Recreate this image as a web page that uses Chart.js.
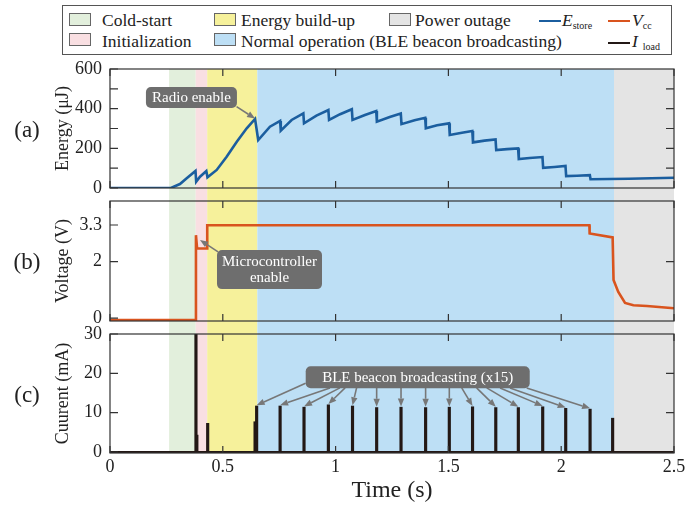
<!DOCTYPE html>
<html>
<head>
<meta charset="utf-8">
<title>Stored energy, supply voltage and load current</title>
<script src="https://cdn.jsdelivr.net/npm/chart.js@4.4.1/dist/chart.umd.min.js"></script>
<style>
  html, body { margin: 0; padding: 0; background: #fff; }
  body { width: 697px; height: 506px; position: relative; overflow: hidden;
         font-family: "Liberation Serif", "Times New Roman", serif; color: #222; }
  #chart { position: absolute; left: 0; top: 0; }
  #legend-box { position: absolute; left: 62px; top: 5px; width: 610px; height: 50px;
                border: 1px solid #555; box-sizing: border-box; }
  .lg { position: absolute; font-size: 17.5px; line-height: 20px; white-space: nowrap; }
  .sw { position: absolute; width: 22px; height: 13px; border: 1px solid #666; box-sizing: border-box; }
  .ln { position: absolute; width: 22px; height: 2.5px; }
  .lg i { font-style: italic; }
  .lg small { font-size: 10px; position: relative; top: 3px; }
</style>
</head>
<body>
<div id="legend-box"></div>
<div id="legend"></div>
<canvas id="chart" width="697" height="506"></canvas>

<script>
const FONT = '"Liberation Serif", "Times New Roman", serif';

// time axis (s)
const xTicks = [0, 0.5, 1, 1.5, 2, 2.5];

// operating phases, shaded behind all three panels
const phaseNames  = ["Cold-start", "Initialization", "Energy build-up",
                     "Normal operation (BLE beacon broadcasting)", "Power outage"];
const phaseStart  = [0.262, 0.380, 0.431, 0.653, 2.234];
const phaseEnd    = [0.380, 0.431, 0.653, 2.234, 2.5];
const phaseColors = ["#e2efdc", "#f9dfe2", "#f6f19b", "#bddff5", "#e4e4e4"];

// (a) stored energy (uJ)
const eTime  = [0, 0.27, 0.31, 0.34, 0.379, 0.382, 0.399, 0.427, 0.432, 0.473,
                0.517, 0.562, 0.606, 0.643, 0.657, 0.709, 0.754, 0.757, 0.805, 0.857,
                0.860, 0.915, 0.968, 0.971, 1.02, 1.072, 1.075, 1.13, 1.180, 1.183,
                1.24, 1.289, 1.292, 1.35, 1.397, 1.400, 1.45, 1.503, 1.506, 1.56,
                1.606, 1.609, 1.66, 1.709, 1.712, 1.76, 1.809, 1.812, 1.86, 1.917,
                1.920, 1.97, 2.019, 2.022, 2.07, 2.127, 2.130, 2.3, 2.5];
const eStore = [0, 0, 20, 49, 86, 32, 57, 86, 54, 91,
                158, 233, 301, 348, 242, 309, 338, 289, 343, 376,
                326, 365, 393, 343, 372, 397, 343, 368, 388, 334,
                358, 376, 322, 342, 354, 301, 316, 326, 267, 279,
                287, 230, 239, 245, 191, 196, 200, 146, 151, 156,
                102, 106, 111, 60, 62, 65, 44, 47, 52];
const eTicks  = [0, 100, 200, 300, 400, 500, 600];
const eLabels = [0, 200, 400, 600];

// (b) supply voltage (V)
const vTime = [0, 0.381, 0.381, 0.386, 0.431, 0.431, 2.125, 2.126, 2.228, 2.232,
               2.253, 2.283, 2.32, 2.38, 2.5];
const vcc   = [-0.07, -0.07, 2.94, 2.47, 2.47, 3.29, 3.29, 3.0, 2.86, 1.35,
               0.93, 0.54, 0.46, 0.43, 0.35];
const vTicks = [0, 2, 3.3];

// (c) load current (mA)
const spikeTime     = [0.381, 0.385, 0.433, 0.643, 2.228];
const spikeCurrent  = [30, 4.3, 7.3, 7.7, 8.6];
const beaconTime    = [0.650, 0.754, 0.860, 0.968, 1.075, 1.182, 1.290, 1.399,
                       1.504, 1.607, 1.710, 1.810, 1.918, 2.020, 2.128];
const beaconCurrent = [11.7, 11.7, 11.4, 12.0, 11.7, 11.3, 11.4, 11.3,
                       11.4, 11.5, 11.3, 11.3, 11.5, 11.1, 10.9];
const baseTime    = [0, 2.5];
const baseCurrent = [0, 0];
const iTicks = [0, 10, 20, 30];

// where each beacon arrow leaves the label box (s)
const beaconArrowFrom = [0.867, 0.975, 1.019, 1.042, 1.093, 1.182, 1.290, 1.399,
                         1.504, 1.559, 1.625, 1.670, 1.729, 1.773, 1.847];

const BLUE = "#1b5e9f", ORANGE = "#d9541e", BLACK = "#231815";

const pts = (xs, ys) => xs.map((x, i) => ({ x, y: ys[i] }));

// callout boxes, anchored in data space
const notes = [
  { axis: "yE", x: 0.361, y: 456, w: 91, h: 21, text: ["Radio enable"],
    arrows: [[0.561, 410, 0.643, 350]] },
  { axis: "yV", x: 0.707, y: 1.72, w: 105, h: 39, text: ["Microcontroller", "enable"],
    arrows: [[0.479, 2.35, 0.399, 2.77]] },
  { axis: "yI", x: 1.364, y: 19, w: 224, h: 22, text: ["BLE beacon broadcasting (x15)"],
    arrows: beaconTime.map((t, i) => [beaconArrowFrom[i], i === 0 ? 17.5 : 16.3, t, beaconCurrent[i] + 0.2]) }
];

// panel frames: axis id, ticks for the left side, ticks mirrored on the right, label
const panels = [
  { id: "yE", ticks: eTicks, right: [100, 200, 300, 400, 500], tag: "(a)" },
  { id: "yV", ticks: vTicks, right: [2], tag: "(b)" },
  { id: "yI", ticks: iTicks, right: [10, 20], tag: "(c)" }
];

// ---- legend (html text) ----
const legend = document.getElementById("legend");
const swatchPos = [[69, 0], [69, 1], [214, 0], [214, 1], [389, 0]];
const textPos   = [102, 102, 241, 241, 415];
phaseNames.forEach((name, i) => {
  const [left, row] = swatchPos[i];
  legend.insertAdjacentHTML("beforeend",
    `<div class="sw" style="left:${left}px;top:${row ? 33 : 13}px;background:${phaseColors[i]}"></div>` +
    `<div class="lg" style="left:${textPos[i]}px;top:${row ? 31 : 10}px">${name}</div>`);
});
legend.insertAdjacentHTML("beforeend", `
  <div class="ln" style="left:539px;top:19.5px;background:${BLUE}"></div>
  <div class="lg" style="left:562px;top:10px"><i>E</i><small>store</small></div>
  <div class="ln" style="left:608px;top:19.5px;background:${ORANGE}"></div>
  <div class="lg" style="left:632px;top:10px"><i>V</i><small>cc</small></div>
  <div class="ln" style="left:608px;top:41.5px;background:${BLACK}"></div>
  <div class="lg" style="left:632px;top:31px"><i>I</i><small style="margin-left:5px">load</small></div>`);

// ---- drawing helpers ----
function arrow(ctx, x1, y1, x2, y2) {
  const a = Math.atan2(y2 - y1, x2 - x1);
  const head = 8, half = 3.2;
  const bx = x2 - head * Math.cos(a), by = y2 - head * Math.sin(a);
  ctx.beginPath(); ctx.moveTo(x1, y1); ctx.lineTo(bx, by); ctx.stroke();
  ctx.beginPath();
  ctx.moveTo(x2, y2);
  ctx.lineTo(bx + half * Math.sin(a), by - half * Math.cos(a));
  ctx.lineTo(bx - half * Math.sin(a), by + half * Math.cos(a));
  ctx.closePath(); ctx.fill();
}

const decor = {
  id: "decor",
  beforeDatasetsDraw(chart) {
    const { ctx, chartArea, scales: { x } } = chart;
    ctx.save();
    phaseStart.forEach((s, i) => {
      const x0 = x.getPixelForValue(s), x1 = x.getPixelForValue(phaseEnd[i]);
      ctx.fillStyle = phaseColors[i];
      ctx.fillRect(x0, chartArea.top, x1 - x0, chartArea.bottom - chartArea.top);
    });
    ctx.restore();
  },
  afterDatasetsDraw(chart) {
    const { ctx, scales } = chart;
    const x = scales.x;
    ctx.save();
    // frames with inward ticks
    ctx.strokeStyle = "#333";
    ctx.lineWidth = 1.2;
    panels.forEach(p => {
      const s = scales[p.id];
      ctx.strokeRect(x.left, s.top, x.right - x.left, s.bottom - s.top);
      ctx.beginPath();
      xTicks.forEach(v => {
        const px = x.getPixelForValue(v);
        ctx.moveTo(px, s.top); ctx.lineTo(px, s.top + 7);
        ctx.moveTo(px, s.bottom); ctx.lineTo(px, s.bottom - 7);
      });
      p.ticks.forEach(v => {
        const py = s.getPixelForValue(v);
        ctx.moveTo(x.left, py); ctx.lineTo(x.left + 8, py);
      });
      p.right.forEach(v => {
        const py = s.getPixelForValue(v);
        ctx.moveTo(x.right, py); ctx.lineTo(x.right - 8, py);
      });
      ctx.stroke();

      ctx.fillStyle = "#222";
      ctx.font = `23px ${FONT}`;
      ctx.textAlign = "center";
      ctx.textBaseline = "middle";
      ctx.fillText(p.tag, 27, (s.top + s.bottom) / 2 + 2);
    });

    // callouts
    notes.forEach(n => {
      const s = scales[n.axis];
      ctx.strokeStyle = "#777";
      ctx.fillStyle = "#777";
      ctx.lineWidth = 1.6;
      n.arrows.forEach(([t0, v0, t1, v1]) =>
        arrow(ctx, x.getPixelForValue(t0), s.getPixelForValue(v0),
                   x.getPixelForValue(t1), s.getPixelForValue(v1)));
      const cx = x.getPixelForValue(n.x), cy = s.getPixelForValue(n.y);
      ctx.fillStyle = "#6e6e6e";
      ctx.beginPath();
      ctx.roundRect(cx - n.w / 2, cy - n.h / 2, n.w, n.h, 5);
      ctx.fill();
      ctx.fillStyle = "#fff";
      ctx.font = `15px ${FONT}`;
      ctx.textAlign = "center";
      ctx.textBaseline = "middle";
      const lh = 15.6;
      n.text.forEach((line, i) =>
        ctx.fillText(line, cx, cy + (i - (n.text.length - 1) / 2) * lh + 0.5));
    });
    ctx.restore();
  }
};

// ---- scales ----
const tickFont = { family: FONT, size: 18 };
function yAxis(min, max, weight, order, ticks, label, title) {
  return {
    type: "linear", position: "left", stack: "panels", stackWeight: weight, weight: order,
    min, max,
    grid: { display: false, drawTicks: false },
    border: { display: false },
    afterBuildTicks: s => { s.ticks = ticks.map(v => ({ value: v })); },
    afterFit: s => { s.width = 110; },
    ticks: { display: !!label, font: tickFont, color: "#222", padding: 8, autoSkip: false,
             callback: label || (() => "") },
    title: { display: !!title, text: title, font: { family: FONT, size: 18 }, color: "#222",
             padding: { top: 52 } }
  };
}

new Chart(document.getElementById("chart"), {
  type: "line",
  data: {
    datasets: [
      { label: "E_store", data: pts(eTime, eStore), yAxisID: "yE",
        borderColor: BLUE, borderWidth: 2.6, pointRadius: 0, tension: 0 },
      { label: "V_cc", data: pts(vTime, vcc), yAxisID: "yV",
        borderColor: ORANGE, borderWidth: 2.6, pointRadius: 0, tension: 0 },
      { label: "I_load", data: pts(baseTime, baseCurrent), yAxisID: "yI",
        borderColor: BLACK, borderWidth: 2, pointRadius: 0 },
      { type: "bar", label: "I_load spikes", yAxisID: "yI",
        data: pts(spikeTime.concat(beaconTime), spikeCurrent.concat(beaconCurrent)),
        backgroundColor: BLACK, borderWidth: 0, barThickness: 2.5 }
    ]
  },
  options: {
    responsive: false,
    animation: false,
    events: [],
    layout: { padding: { top: 69, right: 23, left: 0, bottom: 0 } },
    plugins: { legend: { display: false }, tooltip: { enabled: false } },
    scales: {
      x: {
        type: "linear", min: 0, max: 2.5, offset: false,
        grid: { display: false, drawTicks: false, offset: false },
        border: { display: false },
        afterBuildTicks: s => { s.ticks = xTicks.map(v => ({ value: v })); },
        afterFit: s => { s.height = 53; },
        ticks: { font: tickFont, color: "#222", padding: 3, maxRotation: 0, autoSkip: false,
                 callback: v => String(v) },
        title: { display: true, text: "Time (s)", font: { family: FONT, size: 24 },
                 color: "#222", padding: { bottom: 1, top: 0 } }
      },
      yE:   yAxis(0, 600, 119, 5, eTicks, v => eLabels.includes(v) ? String(v) : "", "Energy (μJ)"),
      gap1: yAxis(0, 1, 13, 4, [], null, ""),
      yV:   yAxis(-0.1, 4.15, 120, 3, vTicks, v => String(v), "Voltage (V)"),
      gap2: yAxis(0, 1, 13, 2, [], null, ""),
      yI:   yAxis(-0.25, 30, 119, 1, iTicks, v => String(v), "Cuurent (mA)")
    }
  },
  plugins: [decor]
});
</script>
</body>
</html>
